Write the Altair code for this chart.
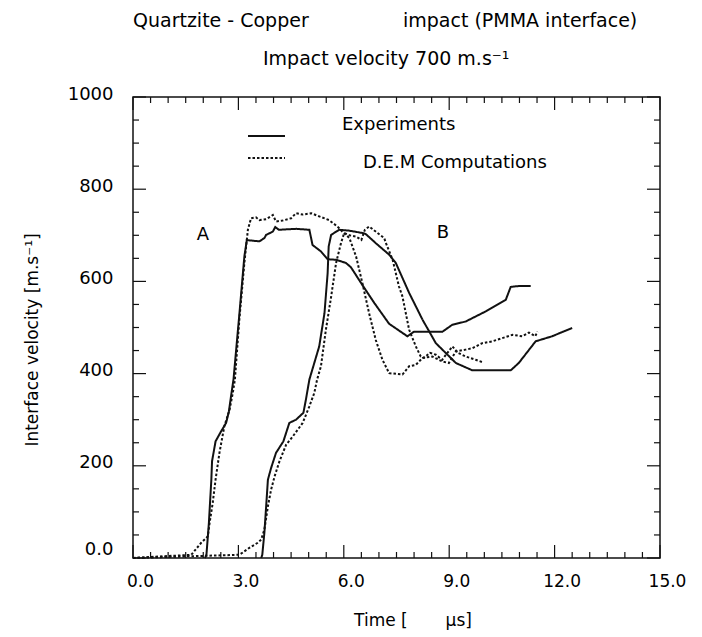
import altair as alt
import pandas as pd

FONT = "DejaVu Sans"
INK = "#111111"

# ---- data (time in microseconds, interface velocity in m/s) ----
exp_a_t = [2.05, 2.09, 2.16, 2.23, 2.25, 2.35, 2.51, 2.65, 2.73, 2.79, 2.86, 3.03, 3.17, 3.24, 3.3, 3.6,
           3.74, 3.79, 3.98, 4.05, 4.15, 4.64, 5.02, 5.11, 5.35, 5.54, 5.78, 6.06, 6.2, 6.53, 6.87, 7.29,
           7.81, 8.0, 8.81, 9.09, 9.47, 10.04, 10.61, 10.75, 10.98, 11.32]
exp_a_v = [0, 7, 76, 170, 210, 253, 275, 293, 318, 351, 387, 531, 654, 690, 689, 687,
           694, 701, 708, 718, 712, 714, 712, 679, 665, 648, 647, 640, 631, 592, 553, 508,
           481, 491, 491, 506, 513, 535, 560, 588, 590, 590]

exp_b_t = [3.65, 3.68, 3.74, 3.79, 3.84, 3.93, 4.07, 4.28, 4.45, 4.64, 4.85, 4.92, 5.02, 5.3, 5.45,
           5.54, 5.57, 5.64, 5.87, 6.16, 6.53, 6.62, 6.91, 7.29, 7.48, 7.86, 8.24, 8.62, 9.19, 9.66,
           10.75, 10.98, 11.46, 11.93, 12.5]
exp_b_v = [0, 7, 55, 112, 170, 195, 228, 253, 293, 300, 315, 343, 387, 459, 531,
           618, 676, 701, 712, 710, 705, 703, 683, 658, 640, 575, 517, 466, 423, 407,
           407, 423, 470, 481, 499]

dem_a_t = [0.0, 1.66, 1.94, 2.13, 2.18, 2.27, 2.35, 2.46, 2.6, 2.75, 2.84, 2.9, 3.03, 3.17, 3.27,
           3.36, 3.5, 3.6, 3.79, 3.98, 4.07, 4.26, 4.5, 4.64, 4.83, 5.07, 5.3, 5.58, 5.82, 5.97,
           6.16, 6.35, 6.53, 6.72, 6.91, 7.1, 7.29, 7.67, 7.86, 8.05, 8.24, 8.52, 8.81, 8.99,
           9.19, 9.47, 9.66, 9.94, 10.23, 10.51, 10.8, 11.08, 11.27, 11.45, 11.51]
dem_a_v = [0, 7, 33, 47, 76, 120, 170, 228, 286, 322, 358, 387, 520, 640, 712,
           737, 739, 733, 735, 744, 730, 732, 737, 748, 745, 748, 741, 733, 719, 707,
           694, 654, 596, 531, 473, 430, 401, 398, 416, 419, 434, 437, 426, 423,
           448, 452, 455, 466, 470, 477, 484, 481, 489, 481, 491]

dem_b_t = [0.0, 3.03, 3.31, 3.55, 3.65, 3.74, 3.84, 3.93, 4.03, 4.17, 4.36, 4.55, 4.83, 5.02, 5.16,
           5.24, 5.35, 5.49, 5.64, 5.78, 5.92, 6.01, 6.16, 6.35, 6.5, 6.6, 6.72, 6.96, 7.15, 7.2,
           7.39, 7.57, 7.67, 7.86, 8.05, 8.19, 8.28, 8.45, 8.62, 8.8, 9.09, 9.25, 9.47, 9.75, 9.94]
dem_b_v = [0, 7, 22, 33, 40, 62, 112, 148, 177, 210, 246, 264, 293, 329, 358,
           387, 416, 495, 567, 640, 683, 705, 700, 697, 690, 712, 719, 705, 694, 683,
           647, 589, 567, 495, 459, 437, 434, 445, 441, 430, 459, 445, 437, 430, 425]

x_major = [0, 3, 6, 9, 12, 15]
x_minor = [0.5, 1, 1.5, 2, 2.5, 3.5, 4, 4.5, 5, 5.5, 6.5, 7, 7.5, 8, 8.5, 9.5, 10, 10.5, 11, 11.5,
           12.5, 13, 13.5, 14, 14.5]
y_major = [0, 200, 400, 600, 800, 1000]
y_minor = [50, 100, 150, 250, 300, 350, 450, 500, 550, 650, 700, 750, 850, 900, 950]

# ---- build tables ----
rows = []
for name, kind, ts, vs in [("A exp", "exp", exp_a_t, exp_a_v), ("B exp", "exp", exp_b_t, exp_b_v),
                           ("A dem", "dem", dem_a_t, dem_a_v), ("B dem", "dem", dem_b_t, dem_b_v)]:
    for i, (t, v) in enumerate(zip(ts, vs)):
        rows.append({"t": t, "v": v, "s": name, "k": kind, "i": i})
lines_df = pd.DataFrame(rows)
one = pd.DataFrame({"_": [0]})

W, H = 527, 461
xs = alt.Scale(domain=[0, 15], nice=False, zero=False)
ys = alt.Scale(domain=[0, 1000], nice=False)
xaxis = alt.Axis(values=x_major, format=".1f", labelOffset=7, labelPadding=15, ticks=False,
                 domain=False, grid=False, title=None, labelFont=FONT, labelFontSize=17,
                 labelColor="#000", labelFlush=False)
yaxis = alt.Axis(values=y_major, format="d", labelExpr="datum.value == 0 ? '0.0' : datum.label",
                 labelOffset={"condition": {"test": "datum.value == 0", "value": -9}, "value": -3},
                 labelPadding=20, ticks=False, domain=False, grid=False, title=None,
                 labelFont=FONT, labelFontSize=18, labelColor="#000", labelFlush=False)


def X(f):
    return alt.X(f, type="quantitative", scale=xs, axis=xaxis)


def Y(f):
    return alt.Y(f, type="quantitative", scale=ys, axis=yaxis)


lines = alt.Chart(lines_df).mark_line(color=INK, strokeWidth=2).encode(
    x=X("t"), y=Y("v"), detail="s:N", order="i:Q",
    strokeDash=alt.StrokeDash("k:N", scale=alt.Scale(domain=["exp", "dem"], range=[[1, 0], [2.5, 2]]),
                              legend=None),
)

layers = [lines]
xmaj = pd.DataFrame({"t": x_major})
xmin = pd.DataFrame({"t": x_minor})
ymaj = pd.DataFrame({"v": y_major})
ymin = pd.DataFrame({"v": y_minor})
for df, ln in [(xmaj, 13), (xmin, 6)]:
    layers.append(alt.Chart(df).mark_rule(color=INK, strokeWidth=1.2).encode(
        x=X("t"), y=alt.value(H), y2=alt.value(H - ln)))
    layers.append(alt.Chart(df).mark_rule(color=INK, strokeWidth=1.2).encode(
        x=X("t"), y=alt.value(0), y2=alt.value(ln)))
for df, ln in [(ymaj, 13), (ymin, 6)]:
    layers.append(alt.Chart(df).mark_rule(color=INK, strokeWidth=1.2).encode(
        y=Y("v"), x=alt.value(0), x2=alt.value(ln)))
    layers.append(alt.Chart(df).mark_rule(color=INK, strokeWidth=1.2).encode(
        y=Y("v"), x=alt.value(W), x2=alt.value(W - ln)))

# legend samples
layers.append(alt.Chart(one).mark_rule(color=INK, strokeWidth=2).encode(
    x=alt.value(115), x2=alt.value(152), y=alt.value(39)))
layers.append(alt.Chart(one).mark_rule(color=INK, strokeWidth=2, strokeDash=[2.5, 2]).encode(
    x=alt.value(115), x2=alt.value(152), y=alt.value(61)))


def txt(s, x, y, size=18, align="left", angle=None):
    kw = dict(text=s, font=FONT, fontSize=size, align=align, baseline="middle", color="#000")
    if angle is not None:
        kw["angle"] = angle
    return alt.Chart(one).mark_text(**kw).encode(x=alt.value(x), y=alt.value(y))


layers += [
    txt("Quartzite - Copper", 0, -76, 19),
    txt("impact (PMMA interface)", 270, -76, 19),
    txt("Impact velocity 700 m.s\u207b\u00b9", 130, -38, 19),
    txt("Experiments", 209, 28, 18),
    txt("D.E.M Computations", 230, 66, 18),
    txt("A", 70, 138, 18, "center"),
    txt("B", 310, 136, 18, "center"),
    txt("Interface velocity [m.s\u207b\u00b9]", -100, 243, 17, "center", 270),
    txt("Time [\u00a0\u00a0\u00a0\u00a0\u00a0\u00a0\u00a0\u03bcs]", 280, 524, 17, "center"),
]

chart = alt.layer(*layers).properties(
    width=W, height=H,
    padding={"left": 133, "top": 97, "right": 702 - 133 - W, "bottom": 637 - 97 - H},
    autosize=alt.AutoSizeParams(type="none"),
    background="white",
).configure_view(stroke=INK, strokeWidth=1.5)

chart.save("out.html", embed_options={"renderer": "svg", "actions": False})
